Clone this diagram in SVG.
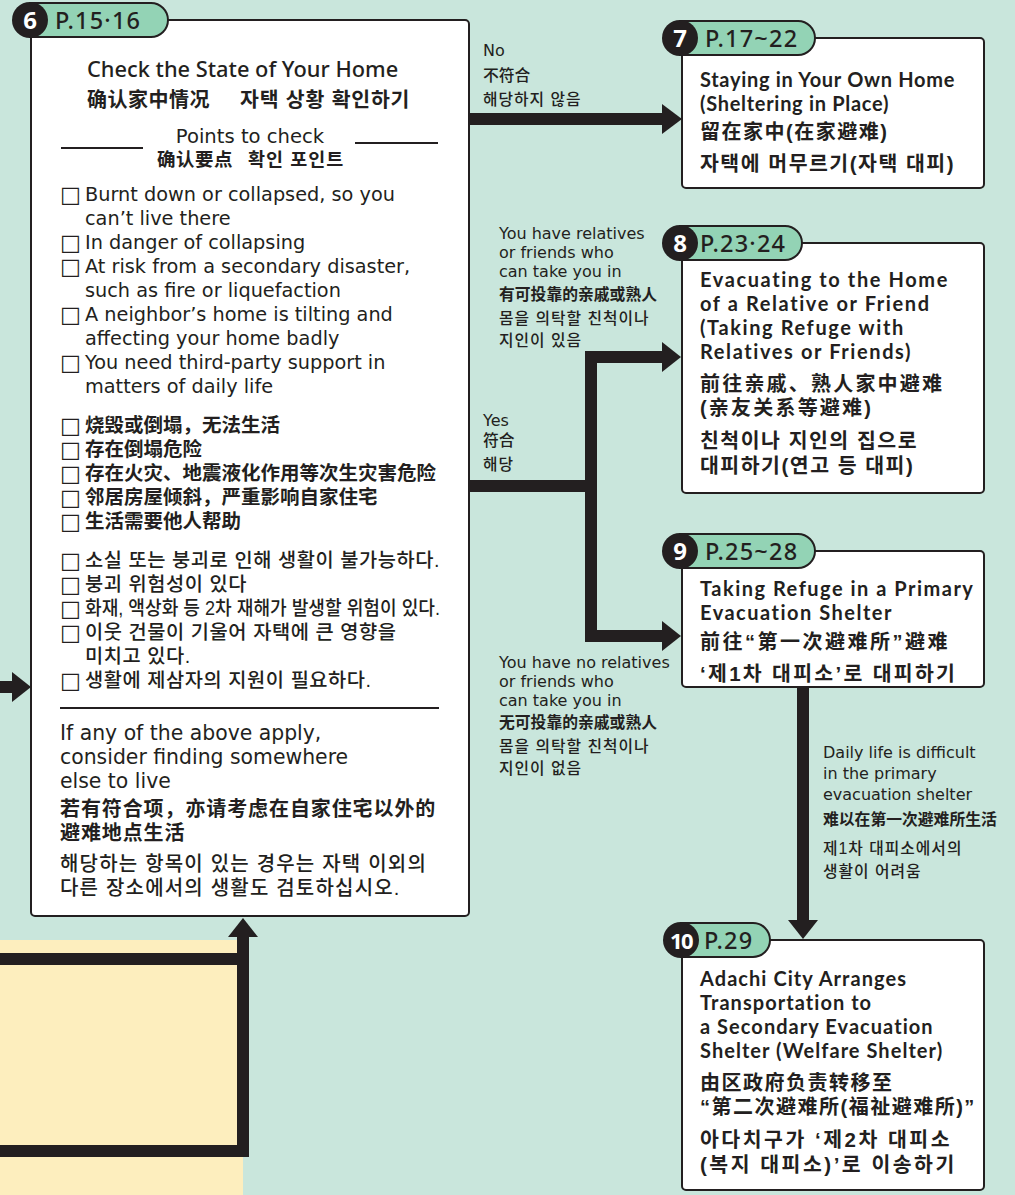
<svg xmlns="http://www.w3.org/2000/svg" width="1015" height="1195" viewBox="0 0 1015 1195">
<style>
.bg{fill:#c9e6dc}
.box{fill:#fff;stroke:#231f20;stroke-width:2}
.pill{fill:#93d3b5;stroke:#231f20;stroke-width:2}
.circ{fill:#231f20}
.num{font-family:"Noto Sans",sans-serif;font-weight:700;font-size:24px;fill:#fff;text-anchor:middle}
.pg{font-family:"Noto Sans",sans-serif;font-weight:500;font-size:23.5px;letter-spacing:1.2px;fill:#231f20}
.t{font-family:"DejaVu Sans","Noto Sans CJK SC",sans-serif;fill:#231f20}
.en{font-size:19.3px}
.cb{font-family:"DejaVu Sans",sans-serif;font-size:22px;font-weight:400;letter-spacing:0}
.h{font-family:Lato,"Noto Sans",sans-serif;font-size:20px;font-weight:700;fill:#231f20}
.zh{font-family:"Liberation Sans","Noto Sans CJK SC",sans-serif;font-size:19.5px;font-weight:700;fill:#231f20}
.ko{font-family:"Liberation Sans","Noto Sans CJK KR",sans-serif;font-size:19.8px;font-weight:500;letter-spacing:0.55px;fill:#231f20}
.zb{font-family:"Liberation Sans","Noto Sans CJK SC",sans-serif;font-size:20px;font-weight:700;letter-spacing:1.5px;fill:#231f20}
.kb{font-family:"Liberation Sans","Noto Sans CJK KR",sans-serif;font-size:20.5px;font-weight:700;letter-spacing:1.5px;fill:#231f20}
.lb{font-family:"DejaVu Sans","Noto Sans CJK SC",sans-serif;font-size:16px;fill:#231f20}
.lbz{font-family:"Liberation Sans","Noto Sans CJK SC",sans-serif;font-size:15.8px;font-weight:700;fill:#231f20}
.lbk{font-family:"Liberation Sans","Noto Sans CJK KR",sans-serif;font-size:15.8px;font-weight:500;letter-spacing:1px;fill:#231f20}
.con{fill:none;stroke:#231f20;stroke-width:12;stroke-linejoin:miter}
.ah{fill:#231f20}
.rule{stroke:#231f20;stroke-width:2}
</style>
<rect class="bg" x="0" y="0" width="1015" height="1195"/>
<rect x="0" y="940" width="243" height="255" fill="#fdeebe"/>

<g id="connectors">
<path class="con" d="M469,119 H664"/>
<polygon class="ah" points="662,104 682,119 662,134"/>
<path class="con" d="M469,486 H591"/>
<path class="con" d="M664,357 H591 V636 H664"/>
<polygon class="ah" points="662,342 681,357 662,372"/>
<polygon class="ah" points="662,621 681,636 662,651"/>
<path class="con" d="M0,687 H14"/>
<polygon class="ah" points="12,672 31,687 12,702"/>
<path class="con" d="M803,687 V922"/>
<polygon class="ah" points="788,920 803,939 818,920"/>
<path class="con" d="M0,959 H243"/>
<path class="con" d="M0,1151 H243 V935"/>
<polygon class="ah" points="228,937 243,918 258,937"/>
</g>

<g id="node6">
<rect class="box" x="31" y="20" width="438" height="896" rx="4"/>
<path class="pill" d="M30,3 H151 A17,17 0 0 1 151,37 H30 Z"/>
<circle class="circ" cx="30" cy="20" r="18"/>
<text class="num" x="30" y="28.5">6</text>
<text class="pg" x="55" y="28.5">P.15·16</text>
<text x="87" y="77" style="font-family:'Noto Sans',sans-serif;font-size:21.8px;font-weight:500;fill:#231f20">Check the State of Your Home</text>
<text class="zb" x="87" y="107" style="letter-spacing:0.5px">确认家中情况<tspan class="kb" x="240" style="letter-spacing:0.8px">자택 상황 확인하기</tspan></text>
<text class="t" x="250" y="143" style="font-size:19.6px" text-anchor="middle">Points to check</text>
<line class="rule" x1="61" y1="148" x2="143" y2="148"/>
<line class="rule" x1="355" y1="143" x2="438" y2="143"/>
<text class="zb" x="157" y="166" style="font-size:18.5px;letter-spacing:0.5px">确认要点<tspan class="kb" x="248" style="font-size:18.5px;letter-spacing:1px">확인 포인트</tspan></text>

<g class="t en">
<text x="60" y="202"><tspan class="cb">□</tspan><tspan x="85" y="201">Burnt down or collapsed, so you</tspan></text>
<text x="85" y="225">can’t live there</text>
<text x="60" y="250"><tspan class="cb">□</tspan><tspan x="85" y="249">In danger of collapsing</tspan></text>
<text x="60" y="274"><tspan class="cb">□</tspan><tspan x="85" y="273">At risk from a secondary disaster,</tspan></text>
<text x="85" y="297">such as fire or liquefaction</text>
<text x="60" y="322"><tspan class="cb">□</tspan><tspan x="85" y="321">A neighbor’s home is tilting and</tspan></text>
<text x="85" y="345">affecting your home badly</text>
<text x="60" y="370"><tspan class="cb">□</tspan><tspan x="85" y="369">You need third-party support in</tspan></text>
<text x="85" y="393">matters of daily life</text>
</g>

<text class="zh" x="60" y="433"><tspan class="cb">□</tspan><tspan x="85" y="432">烧毁或倒塌，无法生活</tspan></text>
<text class="zh" x="60" y="457"><tspan class="cb">□</tspan><tspan x="85" y="456">存在倒塌危险</tspan></text>
<text class="zh" x="60" y="481"><tspan class="cb">□</tspan><tspan x="85" y="480">存在火灾、地震液化作用等次生灾害危险</tspan></text>
<text class="zh" x="60" y="505"><tspan class="cb">□</tspan><tspan x="85" y="504">邻居房屋倾斜，严重影响自家住宅</tspan></text>
<text class="zh" x="60" y="529"><tspan class="cb">□</tspan><tspan x="85" y="528">生活需要他人帮助</tspan></text>

<text class="ko" x="60" y="568"><tspan class="cb">□</tspan><tspan x="85" y="567">소실 또는 붕괴로 인해 생활이 불가능하다.</tspan></text>
<text class="ko" x="60" y="592"><tspan class="cb">□</tspan><tspan x="85" y="591">붕괴 위험성이 있다</tspan></text>
<text class="ko" x="60" y="616"><tspan class="cb">□</tspan><tspan x="85" y="615" textLength="355" lengthAdjust="spacingAndGlyphs" style="letter-spacing:0">화재, 액상화 등 2차 재해가 발생할 위험이 있다.</tspan></text>
<text class="ko" x="60" y="640"><tspan class="cb">□</tspan><tspan x="85" y="639">이웃 건물이 기울어 자택에 큰 영향을</tspan></text>
<text class="ko" x="85" y="663">미치고 있다.</text>
<text class="ko" x="60" y="688"><tspan class="cb">□</tspan><tspan x="85" y="687">생활에 제삼자의 지원이 필요하다.</tspan></text>

<line class="rule" x1="60" y1="708" x2="439" y2="708"/>
<text class="t" x="60" y="740" style="font-size:20.4px">If any of the above apply,</text>
<text class="t" x="60" y="764" style="font-size:20.4px">consider finding somewhere</text>
<text class="t" x="60" y="788" style="font-size:20.4px">else to live</text>
<text class="zh" x="60" y="816" style="font-size:20px;letter-spacing:0.9px">若有符合项，亦请考虑在自家住宅以外的</text>
<text class="zh" x="60" y="840" style="font-size:20px;letter-spacing:0.9px">避难地点生活</text>
<text class="ko" x="60" y="871" style="font-size:20px;letter-spacing:1.2px">해당하는 항목이 있는 경우는 자택 이외의</text>
<text class="ko" x="60" y="895" style="font-size:20px;letter-spacing:1.2px">다른 장소에서의 생활도 검토하십시오.</text>
</g>

<g id="node7">
<rect class="box" x="682" y="38" width="302" height="150" rx="4"/>
<path class="pill" d="M680,21 H798 A17,17 0 0 1 798,55 H680 Z"/>
<circle class="circ" cx="680" cy="38" r="18"/>
<text class="num" x="680" y="46.5">7</text>
<text class="pg" x="705" y="46.5">P.17~22</text>
<text class="h" x="700" y="87" style="letter-spacing:0.7px">Staying in Your Own Home</text>
<text class="h" x="700" y="111" style="letter-spacing:0.7px">(Sheltering in Place)</text>
<text class="zb" x="700" y="139">留在家中(在家避难)</text>
<text class="kb" x="700" y="171">자택에 머무르기(자택 대피)</text>
</g>

<g id="node8">
<rect class="box" x="682" y="243" width="302" height="250" rx="4"/>
<path class="pill" d="M680,226 H785 A17,17 0 0 1 785,260 H680 Z"/>
<circle class="circ" cx="680" cy="243" r="18"/>
<text class="num" x="680" y="251.5">8</text>
<text class="pg" x="700" y="251.5">P.23·24</text>
<text class="h" x="700" y="287" style="letter-spacing:1.6px">Evacuating to the Home</text>
<text class="h" x="700" y="311" style="letter-spacing:1.6px">of a Relative or Friend</text>
<text class="h" x="700" y="335" style="letter-spacing:1.6px">(Taking Refuge with</text>
<text class="h" x="700" y="359" style="letter-spacing:1.6px">Relatives or Friends)</text>
<text class="zb" x="700" y="391" style="letter-spacing:2.2px">前往亲戚、熟人家中避难</text>
<text class="zb" x="700" y="415" style="letter-spacing:2.2px">(亲友关系等避难)</text>
<text class="kb" x="700" y="448">친척이나 지인의 집으로</text>
<text class="kb" x="700" y="473">대피하기(연고 등 대피)</text>
</g>

<g id="node9">
<rect class="box" x="682" y="551" width="302" height="136" rx="4"/>
<path class="pill" d="M680,534 H798 A17,17 0 0 1 798,568 H680 Z"/>
<circle class="circ" cx="680" cy="551" r="18"/>
<text class="num" x="680" y="559.5">9</text>
<text class="pg" x="705" y="559.5">P.25~28</text>
<text class="h" x="700" y="596" style="letter-spacing:1.5px">Taking Refuge in a Primary</text>
<text class="h" x="700" y="620" style="letter-spacing:1.5px">Evacuation Shelter</text>
<text class="zb" x="700" y="649" style="letter-spacing:2.5px">前往“第一次避难所”避难</text>
<text class="kb" x="700" y="681" style="letter-spacing:2.3px">‘제1차 대피소’로 대피하기</text>
</g>

<g id="node10">
<rect class="box" x="682" y="940" width="302" height="250" rx="4"/>
<path class="pill" d="M681,923 H753 A17,17 0 0 1 753,957 H681 Z"/>
<circle class="circ" cx="681" cy="940" r="18"/>
<text class="num" x="681" y="948.5" style="font-size:22px;letter-spacing:-1.5px">10</text>
<text class="pg" x="704" y="948.5">P.29</text>
<text class="h" x="700" y="986" style="letter-spacing:1.05px">Adachi City Arranges</text>
<text class="h" x="700" y="1010" style="letter-spacing:1.05px">Transportation to</text>
<text class="h" x="700" y="1034" style="letter-spacing:1.05px">a Secondary Evacuation</text>
<text class="h" x="700" y="1058" style="letter-spacing:1.05px">Shelter (Welfare Shelter)</text>
<text class="zb" x="700" y="1090">由区政府负责转移至</text>
<text class="zb" x="700" y="1114">“第二次避难所(福祉避难所)”</text>
<text class="kb" x="700" y="1147" style="letter-spacing:2.5px">아다치구가 ‘제2차 대피소</text>
<text class="kb" x="700" y="1172" style="letter-spacing:2.5px">(복지 대피소)’로 이송하기</text>
</g>

<g id="labels">
<text class="lb" x="483" y="56">No</text>
<text class="lbz" x="483" y="81" style="font-weight:500">不符合</text>
<text class="lbk" x="483" y="105">해당하지 않음</text>
<text class="lb" x="499" y="239">You have relatives</text>
<text class="lb" x="499" y="258">or friends who</text>
<text class="lb" x="499" y="277">can take you in</text>
<text class="lbz" x="499" y="300">有可投靠的亲戚或熟人</text>
<text class="lbk" x="499" y="324">몸을 의탁할 친척이나</text>
<text class="lbk" x="499" y="346">지인이 있음</text>
<text class="lb" x="483" y="426">Yes</text>
<text class="lbz" x="483" y="446" style="font-weight:500">符合</text>
<text class="lbk" x="483" y="470">해당</text>
<text class="lb" x="499" y="668">You have no relatives</text>
<text class="lb" x="499" y="687">or friends who</text>
<text class="lb" x="499" y="706">can take you in</text>
<text class="lbz" x="499" y="728">无可投靠的亲戚或熟人</text>
<text class="lbk" x="499" y="752">몸을 의탁할 친척이나</text>
<text class="lbk" x="499" y="774">지인이 없음</text>
<text class="lb" x="823" y="758">Daily life is difficult</text>
<text class="lb" x="823" y="779">in the primary</text>
<text class="lb" x="823" y="800">evacuation shelter</text>
<text class="lbz" x="823" y="825">难以在第一次避难所生活</text>
<text class="lbk" x="823" y="854">제1차 대피소에서의</text>
<text class="lbk" x="823" y="877">생활이 어려움</text>
</g>
</svg>
